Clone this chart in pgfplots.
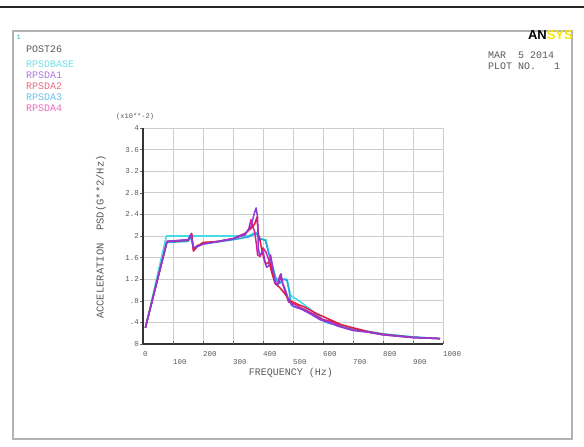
\documentclass[border=0pt]{standalone}
\usepackage{pgfplots}
\pgfplotsset{compat=1.18}
\usepackage{fontspec}
\setmainfont{Liberation Mono}
\newfontfamily\logofont{Liberation Sans}
\definecolor{cbase}{RGB}{70,220,230}
\definecolor{ca1}{RGB}{140,60,215}
\definecolor{ca2}{RGB}{225,25,60}
\definecolor{ca3}{RGB}{40,165,225}
\definecolor{ca4}{RGB}{215,30,150}
\definecolor{txt}{RGB}{90,90,90}
\begin{document}
\begin{tikzpicture}
\path[use as bounding box] (0pt,0pt) rectangle (584pt,447pt);
\draw[line width=1.4pt, black!85] (0pt,440pt) -- (584pt,440pt);
\draw[line width=1.2pt, black!30] (13pt,8pt) rectangle (572pt,416pt);
\node[anchor=west, text=cbase!80!black, font=\fontsize{7}{8}\selectfont] at (13pt,410pt) {1};
\node[anchor=west, text=txt, font=\fontsize{10}{11}\selectfont, inner sep=0pt] at (26pt,398pt) {POST26};
\node[anchor=west, text=cbase!80, font=\fontsize{10}{11}\selectfont, inner sep=0pt] at (26pt,383pt) {RPSDBASE};
\node[anchor=west, text=ca1!70, font=\fontsize{10}{11}\selectfont, inner sep=0pt] at (26pt,372pt) {RPSDA1};
\node[anchor=west, text=ca2!65, font=\fontsize{10}{11}\selectfont, inner sep=0pt] at (26pt,361pt) {RPSDA2};
\node[anchor=west, text=ca3!70, font=\fontsize{10}{11}\selectfont, inner sep=0pt] at (26pt,350pt) {RPSDA3};
\node[anchor=west, text=ca4!65, font=\fontsize{10}{11}\selectfont, inner sep=0pt] at (26pt,339pt) {RPSDA4};
\node[anchor=east, inner sep=0pt, font=\logofont\bfseries\fontsize{13}{14}\selectfont] at (573pt,412pt) {{\color{black}AN}{\color{yellow!85!orange}SYS}};
\node[anchor=west, text=txt, font=\fontsize{10}{11}\selectfont, inner sep=0pt] at (488pt,392pt) {MAR\ \ 5 2014};
\node[anchor=west, text=txt, font=\fontsize{10}{11}\selectfont, inner sep=0pt] at (488pt,381pt) {PLOT NO.\ \ \ 1};
\node[anchor=west, text=txt, font=\fontsize{7}{8}\selectfont, inner sep=0pt] at (116pt,330pt) {(x10**-2)};
\node[rotate=90, text=txt, font=\fontsize{10.5}{11}\selectfont, inner sep=0pt] at (101pt,210pt) {ACCELERATION\ \ PSD(G**2/Hz)};
\node[text=txt, font=\fontsize{10}{11}\selectfont, inner sep=0pt] at (291pt,74pt) {FREQUENCY (Hz)};
\begin{axis}[
  at={(143pt,103pt)}, anchor=south west,
  scale only axis, width=300pt, height=216pt,
  xmin=0, xmax=1000, ymin=0, ymax=4,
  axis x line=bottom, axis y line=left,
  axis line style={-, line width=1.6pt, black!80},
  xtick={0,200,400,600,800,1000},
  extra x ticks={100,300,500,700,900},
  extra x tick style={grid=major, tick label style={yshift=-8pt}},
  ytick={0,0.4,0.8,1.2,1.6,2,2.4,2.8,3.2,3.6,4},
  yticklabels={0,.4,.8,1.2,1.6,2,2.4,2.8,3.2,3.6,4},
  grid=major,
  major grid style={black!20, line width=0.7pt},
  tick style={black!60, line width=0.5pt},
  major tick length=3pt,
  xtick align=inside, ytick align=outside,
  /pgf/number format/assume math mode=true,
  /pgf/number format/1000 sep={},
  xticklabel style={anchor=north west, inner sep=0pt, yshift=-7pt, text=txt, font=\fontsize{7.5}{8}\selectfont},
  yticklabel style={text=txt, font=\fontsize{7.5}{8}\selectfont, inner sep=1pt},
  every axis plot/.append style={line width=1.5pt, line join=round},
  clip=true,
]
\addplot[cbase, line width=1.6pt] coordinates {
(8,0.3)(78,2.0)(150,2.0)(250,2.0)(350,2.0)(365,2.04)(376,2.07)(384,1.98)(395,1.94)(410,1.93)(418,1.72)(425,1.55)(432,1.45)(442,1.22)(450,1.2)(480,1.2)(492,0.9)(520,0.8)(560,0.63)(600,0.46)(650,0.36)(700,0.28)(800,0.19)(900,0.13)(990,0.1)};
\addplot[ca3] coordinates {
(8,0.3)(80,1.88)(150,1.9)(160,1.98)(168,1.78)(200,1.85)(300,1.93)(350,1.98)(378,2.05)(390,1.95)(408,1.92)(418,1.7)(425,1.6)(432,1.42)(445,1.18)(455,1.12)(468,1.2)(480,1.18)(488,0.95)(494,0.72)(510,0.68)(540,0.64)(580,0.5)(610,0.4)(650,0.34)(700,0.27)(800,0.18)(900,0.13)(990,0.1)};
\addplot[ca4] coordinates {
(8,0.3)(80,1.9)(150,1.93)(162,2.04)(168,1.75)(180,1.82)(200,1.86)(250,1.9)(300,1.95)(340,2.02)(352,2.12)(360,2.3)(366,2.18)(372,2.08)(378,1.85)(382,1.65)(390,1.62)(396,1.7)(400,1.78)(410,1.7)(420,1.55)(428,1.45)(435,1.25)(445,1.1)(452,1.12)(458,1.25)(465,1.12)(475,0.95)(485,0.78)(510,0.72)(540,0.63)(570,0.55)(600,0.45)(620,0.43)(635,0.4)(660,0.32)(700,0.26)(750,0.22)(800,0.17)(900,0.12)(990,0.1)};
\addplot[ca2] coordinates {
(8,0.3)(80,1.9)(150,1.92)(162,2.05)(168,1.72)(180,1.8)(200,1.88)(250,1.9)(300,1.95)(340,2.05)(362,2.15)(372,2.22)(380,2.35)(384,2.05)(390,1.92)(396,1.75)(402,1.6)(410,1.48)(420,1.52)(428,1.35)(440,1.12)(455,1.05)(470,0.95)(490,0.8)(510,0.75)(540,0.68)(580,0.56)(620,0.46)(660,0.36)(700,0.3)(750,0.23)(800,0.18)(900,0.12)(990,0.1)};
\addplot[ca1] coordinates {
(8,0.3)(80,1.9)(150,1.93)(160,2.02)(168,1.78)(180,1.8)(200,1.85)(250,1.9)(300,1.95)(340,2.04)(360,2.18)(370,2.4)(377,2.52)(382,2.35)(384,1.8)(388,1.65)(395,1.68)(401,1.72)(406,1.52)(412,1.42)(420,1.45)(425,1.65)(430,1.5)(440,1.15)(448,1.08)(455,1.25)(460,1.3)(466,1.12)(476,0.98)(486,0.8)(500,0.7)(530,0.64)(560,0.55)(590,0.45)(620,0.4)(650,0.33)(700,0.25)(750,0.22)(800,0.17)(900,0.12)(990,0.1)};
\end{axis}
\end{tikzpicture}
\end{document}
